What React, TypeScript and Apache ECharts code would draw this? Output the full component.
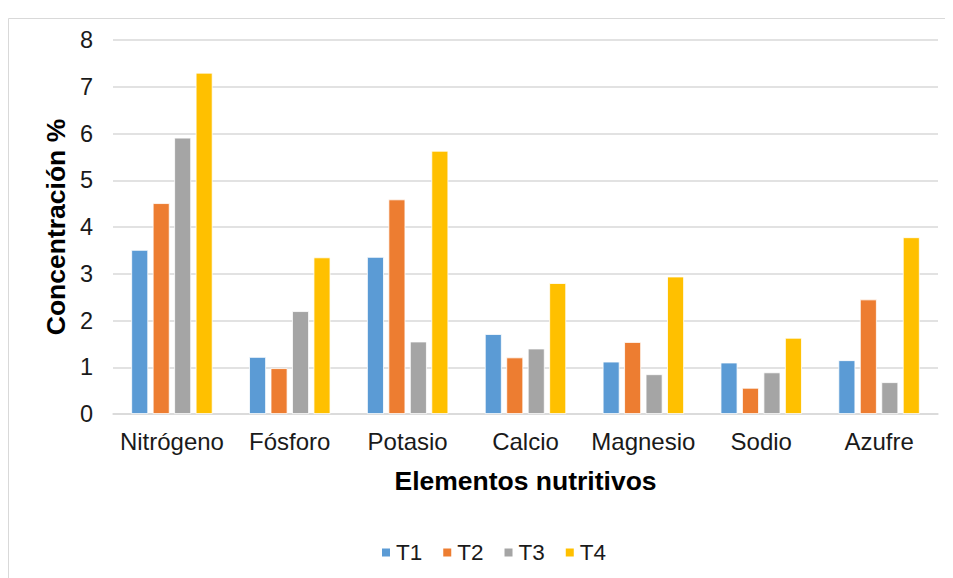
import React, { useEffect, useRef } from "react";
import * as echarts from "echarts";

const categories = ["Nitrógeno", "Fósforo", "Potasio", "Calcio", "Magnesio", "Sodio", "Azufre"];
const seriesNames = ["T1", "T2", "T3", "T4"];
const t1 = [3.51, 1.22, 3.36, 1.71, 1.12, 1.1, 1.15];
const t2 = [4.51, 0.98, 4.59, 1.21, 1.54, 0.56, 2.45];
const t3 = [5.91, 2.2, 1.55, 1.4, 0.85, 0.89, 0.68];
const t4 = [7.3, 3.35, 5.63, 2.8, 2.94, 1.63, 3.78];
const colors = ["#5b9bd5", "#ed7d31", "#a5a5a5", "#ffc000"];
const yTicks = [0, 1, 2, 3, 4, 5, 6, 7, 8];

const FONT = "'Liberation Sans', Arial, sans-serif";

export default function App() {
  const ref = useRef<HTMLDivElement>(null);
  useEffect(() => {
    if (!ref.current) return;
    const chart = echarts.init(ref.current, null, { renderer: "svg" });
    const values = [t1, t2, t3, t4];
    chart.setOption({
      animation: false,
      textStyle: { fontFamily: FONT },
      graphic: [
        {
          type: "rect",
          shape: { x: 0.5, y: 10.5, width: 1000, height: 1000 },
          style: { fill: "none", stroke: "#d9d9d9", lineWidth: 1 },
          silent: true,
        },
      ],
      grid: { left: 105, right: 15, top: 32, bottom: 164, containLabel: false },
      legend: {
        data: seriesNames,
        top: 528,
        left: 367,
        icon: "rect",
        itemWidth: 10,
        itemHeight: 10,
        itemGap: 19,
        textStyle: { fontSize: 22.5, color: "#1a1a1a", fontFamily: FONT },
      },
      xAxis: {
        type: "category",
        data: categories,
        name: "Elementos nutritivos",
        nameLocation: "middle",
        nameGap: 53,
        nameTextStyle: { fontSize: 26.5, fontWeight: "bold", color: "#000", fontFamily: FONT },
        axisLine: { lineStyle: { color: "#d9d9d9", width: 1.5 } },
        axisTick: { show: false },
        axisLabel: { fontSize: 24, color: "#1a1a1a", margin: 15, fontFamily: FONT, interval: 0 },
      },
      yAxis: {
        type: "value",
        min: yTicks[0],
        max: yTicks[yTicks.length - 1],
        interval: 1,
        name: "Concentración %",
        nameLocation: "middle",
        nameGap: 43,
        nameTextStyle: { fontSize: 26.5, fontWeight: "bold", color: "#000", fontFamily: FONT },
        axisLine: { show: false },
        axisTick: { show: false },
        axisLabel: { fontSize: 23.5, color: "#1a1a1a", margin: 20, fontFamily: FONT },
        splitLine: { lineStyle: { color: "#d9d9d9", width: 1.5 } },
      },
      series: seriesNames.map((name, i) => ({
        name,
        type: "bar",
        data: values[i],
        barGap: "27%",
        barCategoryGap: "31%",
        itemStyle: { color: colors[i], borderColor: "#ffffff", borderWidth: 0.8 },
      })),
    });
    return () => chart.dispose();
  }, []);
  return <div ref={ref} style={{ width: 945, height: 570 }} />;
}
